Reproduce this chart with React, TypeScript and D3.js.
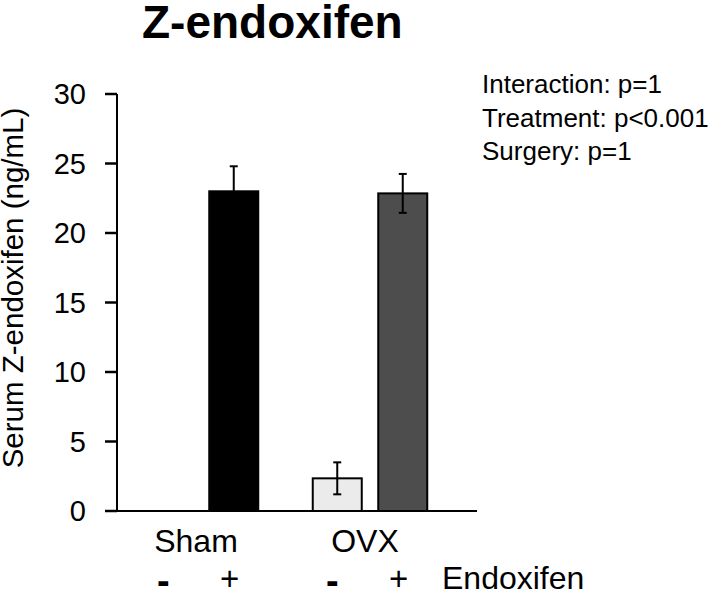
import React from "react";
import * as d3 from "d3";

const groups = ["Sham", "OVX"];
const treatments = ["-", "+"];
const means = [
  [0, 23.0],
  [2.35, 22.85],
];
const errors = [
  [0, 1.8],
  [1.15, 1.4],
];
const fills = [
  ["#ffffff", "#000000"],
  ["#ebebeb", "#4d4d4d"],
];
const yTicks = [0, 5, 10, 15, 20, 25, 30];
const stats = ["Interaction: p=1", "Treatment: p<0.001", "Surgery: p=1"];
const title = "Z-endoxifen";
const yLabel = "Serum Z-endoxifen (ng/mL)";
const factorLabel = "Endoxifen";

const W = 712;
const H = 595;
const FONT = "'Liberation Sans', Arial, Helvetica, sans-serif";

export default function App() {
  const y = d3.scaleLinear().domain([0, 30]).range([511, 94]);
  const x0 = d3.scalePoint<string>().domain(groups).range([201, 370]);
  const x1 = d3.scalePoint<string>().domain(treatments).range([-32.75, 32.75]);
  const barW = 49;
  const axisX = 117;
  const axisEnd = 477;

  return (
    <svg
      width={W}
      height={H}
      style={{ position: "absolute", left: 0, top: 0, background: "#fff" }}
      fontFamily={FONT}
    >
      <rect x={0} y={0} width={W} height={H} fill="#fff" />
      <text x={142} y={37.5} fontSize={46} fontWeight="bold" fill="#000">
        {title}
      </text>
      {stats.map((s, i) => (
        <text key={s} x={482} y={93 + i * 33.5} fontSize={26} fill="#000">
          {s}
        </text>
      ))}
      {/* y axis */}
      <line x1={axisX} x2={axisX} y1={y(30)} y2={y(0)} stroke="#000" strokeWidth={2} />
      {yTicks.map((t) => (
        <g key={t}>
          <line x1={axisX - 12} x2={axisX} y1={y(t)} y2={y(t)} stroke="#000" strokeWidth={2.5} />
          <text
            x={86}
            y={y(t)}
            dy="0.36em"
            textAnchor="end"
            fontSize={29}
            fill="#000"
          >
            {t}
          </text>
        </g>
      ))}
      <text
        transform={`translate(23, 288) rotate(-90)`}
        textAnchor="middle"
        fontSize={29.5}
        fill="#000"
      >
        {yLabel}
      </text>
      {/* bars */}
      {groups.map((g, gi) =>
        treatments.map((t, ti) => {
          const cx = (x0(g) as number) + (x1(t) as number);
          const m = means[gi][ti];
          const e = errors[gi][ti];
          if (m <= 0) return null;
          return (
            <g key={g + t}>
              <rect
                x={cx - barW / 2}
                y={y(m)}
                width={barW}
                height={y(0) - y(m)}
                fill={fills[gi][ti]}
                stroke="#000"
                strokeWidth={2}
              />
              <line x1={cx} x2={cx} y1={y(m + e)} y2={y(m - e)} stroke="#000" strokeWidth={2} />
              <line x1={cx - 4} x2={cx + 4} y1={y(m + e)} y2={y(m + e)} stroke="#000" strokeWidth={2} />
              <line x1={cx - 4} x2={cx + 4} y1={y(m - e)} y2={y(m - e)} stroke="#000" strokeWidth={2} />
            </g>
          );
        })
      )}
      {/* x baseline */}
      <line x1={axisX} x2={axisEnd} y1={y(0)} y2={y(0)} stroke="#000" strokeWidth={2} />
      {groups.map((g) => (
        <text key={g} x={(x0(g) as number) - 5} y={552} textAnchor="middle" fontSize={32} fill="#000">
          {g}
        </text>
      ))}
      {groups.map((g) =>
        treatments.map((t, ti) =>
          ti === 0 ? (
            <text
              key={g + t}
              x={(x0(g) as number) + (x1(t) as number) - 5}
              y={594}
              textAnchor="middle"
              fontSize={38}
              fontWeight="bold"
              fill="#000"
            >
              -
            </text>
          ) : (
            <text
              key={g + t}
              x={(x0(g) as number) + (x1(t) as number) - 4}
              y={590}
              textAnchor="middle"
              fontSize={33}
              fill="#000"
            >
              +
            </text>
          )
        )
      )}
      <text x={442} y={589} fontSize={32} fill="#000">
        {factorLabel}
      </text>
    </svg>
  );
}
